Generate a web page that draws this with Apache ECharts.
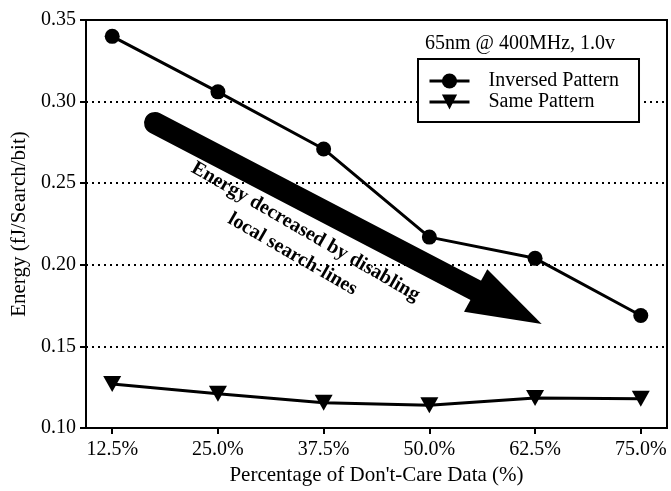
<!DOCTYPE html>
<html>
<head>
<meta charset="utf-8">
<script src="https://cdn.jsdelivr.net/npm/echarts@6/dist/echarts.min.js"></script>
<style>
html,body{margin:0;padding:0;background:#fff;}
#chart{width:671px;height:491px;}
</style>
</head>
<body>
<div id="chart"></div>
<script>
// Data
var xValues = [12.5, 25.0, 37.5, 50.0, 62.5, 75.0];
var inversedPattern = [0.340, 0.306, 0.271, 0.217, 0.204, 0.169];
var samePattern = [0.127, 0.121, 0.1155, 0.114, 0.1185, 0.118];
var yTicks = [0.10, 0.15, 0.20, 0.25, 0.30, 0.35];
var seriesNames = ['Inversed Pattern', 'Same Pattern'];
var noteText = '65nm @ 400MHz, 1.0v';
var arrowText = 'Energy decreased by disabling\nlocal search-lines';

var FONT = '"Liberation Serif", "Times New Roman", serif';

function pairs(xs, ys) {
  return xs.map(function (x, i) { return [x, ys[i]]; });
}

var chart = echarts.init(document.getElementById('chart'), null, {renderer: 'canvas'});

var option = {
  backgroundColor: '#fff',
  animation: false,
  textStyle: {fontFamily: FONT, color: '#000'},
  grid: {
    left: 86, top: 20, right: 4, bottom: 54,
    show: true, borderColor: '#000', borderWidth: 2, backgroundColor: 'transparent'
  },
  xAxis: {
    type: 'value',
    min: 9.4, max: 78.1,
    name: "Percentage of Don't-Care Data (%)",
    nameLocation: 'middle',
    nameGap: 32,
    nameTextStyle: {fontFamily: FONT, fontSize: 21, color: '#000'},
    axisLine: {show: true, onZero: false, lineStyle: {color: '#000', width: 2}},
    axisTick: {show: true, inside: false, length: 6, customValues: xValues, lineStyle: {color: '#000', width: 2}},
    axisLabel: {
      customValues: xValues,
      margin: 12,
      fontFamily: FONT, fontSize: 20, color: '#000',
      formatter: function (v) { return v.toFixed(1) + '%'; }
    },
    splitLine: {show: false}
  },
  yAxis: {
    type: 'value',
    min: 0.10, max: 0.35, interval: 0.05,
    name: 'Energy (fJ/Search/bit)',
    nameLocation: 'middle',
    nameGap: 56,
    nameTextStyle: {fontFamily: FONT, fontSize: 21, color: '#000'},
    axisLine: {show: true, lineStyle: {color: '#000', width: 2}},
    axisTick: {show: true, inside: false, length: 6, lineStyle: {color: '#000', width: 2}},
    axisLabel: {
      margin: 10,
      fontFamily: FONT, fontSize: 20, color: '#000',
      formatter: function (v) { return v.toFixed(2); }
    },
    splitLine: {show: true, lineStyle: {color: '#000', width: 2, type: [2, 4]}}
  },
  legend: {
    orient: 'vertical',
    left: 418, top: 59,
    padding: [12, 20, 10, 10],
    itemGap: 1,
    itemWidth: 40,
    itemHeight: 19,
    borderColor: '#000',
    borderWidth: 2,
    backgroundColor: '#fff',
    lineStyle: {width: 3, color: '#000'},
    textStyle: {fontFamily: FONT, fontSize: 20, color: '#000', padding: [0, 0, 0, 14]},
    data: seriesNames
  },
  series: [
    {
      name: seriesNames[0],
      type: 'line',
      data: pairs(xValues, inversedPattern),
      symbol: 'circle',
      symbolSize: 15,
      lineStyle: {color: '#000', width: 3},
      itemStyle: {color: '#000'},
      z: 3
    },
    {
      name: seriesNames[1],
      type: 'line',
      data: pairs(xValues, samePattern),
      symbol: 'triangle',
      symbolSize: [18, 16],
      symbolRotate: 180,
      lineStyle: {color: '#000', width: 3},
      itemStyle: {color: '#000'},
      z: 3
    }
  ],
  graphic: [
    {
      type: 'text',
      left: 425, top: 34,
      style: {text: noteText, font: '20px ' + FONT, fill: '#000'}
    },
    {
      type: 'polyline',
      shape: {points: [[155, 123], [478, 291.5]]},
      style: {stroke: '#000', lineWidth: 22, lineCap: 'round', fill: null},
      z: 5
    },
    {
      type: 'polygon',
      shape: {points: [[487.3, 269.3], [464, 311.7], [541.7, 324]]},
      style: {fill: '#000'},
      z: 5
    },
    {
      type: 'text',
      x: 299, y: 243,
      rotation: -30 * Math.PI / 180,
      style: {
        text: arrowText,
        font: 'bold 20px ' + FONT,
        fill: '#000',
        align: 'center',
        verticalAlign: 'middle',
        lineHeight: 26
      },
      z: 6
    }
  ]
};

chart.setOption(option);
</script>
</body>
</html>
